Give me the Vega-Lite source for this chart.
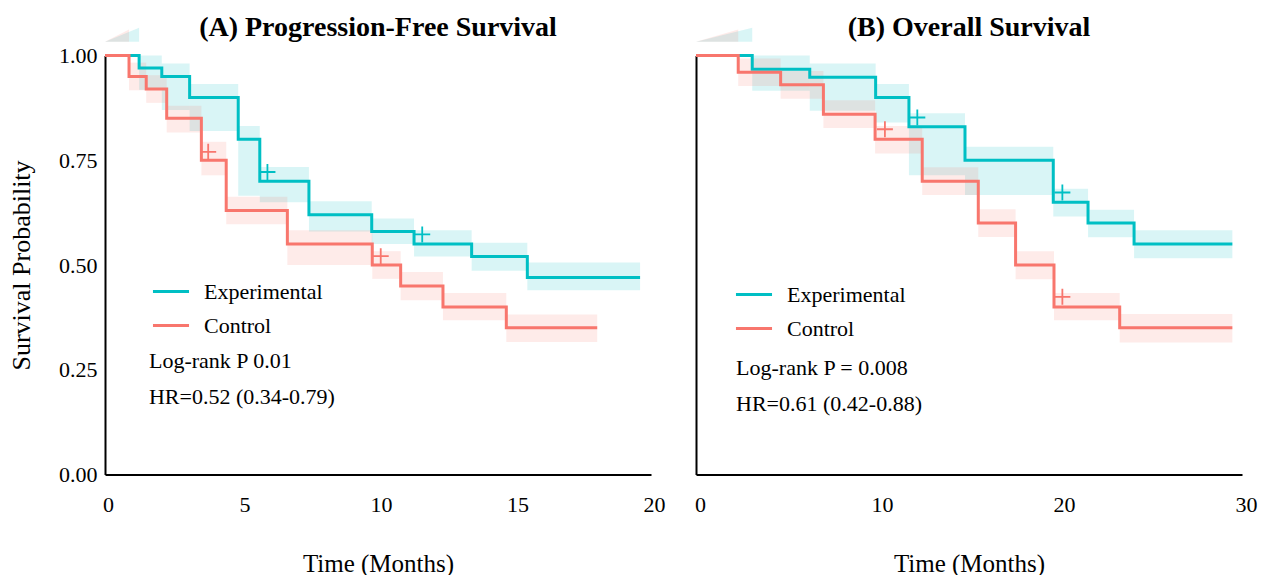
{
  "$schema": "https://vega.github.io/schema/vega-lite/v6.json",
  "padding": {"left": 8, "top": 13.5, "right": 10, "bottom": 0},
  "background": "white",
  "bounds": "flush",
  "spacing": 45,
  "config": {
    "font": "Liberation Serif",
    "view": {"stroke": null},
    "axis": {"domainColor": "black", "domainWidth": 2, "ticks": false, "grid": false, "labelColor": "black", "titleColor": "black", "labelFont": "Liberation Serif", "titleFont": "Liberation Serif", "labelFontSize": 22, "titleFontSize": 25, "titleFontWeight": "normal"},
    "legend": {"labelFont": "Liberation Serif", "labelFontSize": 22, "labelColor": "black"},
    "title": {"font": "Liberation Serif", "fontSize": 28, "fontWeight": "bold", "color": "black", "anchor": "middle"}
  },
  "datasets": {
    "pfs_step": [
      {"group": "Experimental", "t": 0, "s": 1.0},
      {"group": "Experimental", "t": 1.25, "s": 0.97},
      {"group": "Experimental", "t": 2.08, "s": 0.95},
      {"group": "Experimental", "t": 3.10, "s": 0.90},
      {"group": "Experimental", "t": 4.88, "s": 0.80},
      {"group": "Experimental", "t": 5.67, "s": 0.70},
      {"group": "Experimental", "t": 7.47, "s": 0.62},
      {"group": "Experimental", "t": 9.77, "s": 0.58},
      {"group": "Experimental", "t": 11.32, "s": 0.55},
      {"group": "Experimental", "t": 13.43, "s": 0.52},
      {"group": "Experimental", "t": 15.47, "s": 0.47},
      {"group": "Experimental", "t": 19.6, "s": 0.47},
      {"group": "Control", "t": 0, "s": 1.0},
      {"group": "Control", "t": 0.88, "s": 0.95},
      {"group": "Control", "t": 1.51, "s": 0.92},
      {"group": "Control", "t": 2.26, "s": 0.85},
      {"group": "Control", "t": 3.53, "s": 0.75},
      {"group": "Control", "t": 4.44, "s": 0.63},
      {"group": "Control", "t": 6.68, "s": 0.55},
      {"group": "Control", "t": 9.79, "s": 0.50},
      {"group": "Control", "t": 10.83, "s": 0.45},
      {"group": "Control", "t": 12.38, "s": 0.40},
      {"group": "Control", "t": 14.7, "s": 0.35},
      {"group": "Control", "t": 18.03, "s": 0.35}
    ],
    "pfs_band": [
      {"group": "Experimental", "t0": 1.25, "t1": 2.08, "lo": 0.918, "hi": 1.0},
      {"group": "Experimental", "t0": 2.08, "t1": 3.10, "lo": 0.87, "hi": 0.981},
      {"group": "Experimental", "t0": 3.10, "t1": 4.88, "lo": 0.82, "hi": 0.932},
      {"group": "Experimental", "t0": 4.88, "t1": 5.67, "lo": 0.665, "hi": 0.832},
      {"group": "Experimental", "t0": 5.67, "t1": 7.47, "lo": 0.65, "hi": 0.734},
      {"group": "Experimental", "t0": 7.47, "t1": 9.77, "lo": 0.58, "hi": 0.652},
      {"group": "Experimental", "t0": 9.77, "t1": 11.32, "lo": 0.55, "hi": 0.611},
      {"group": "Experimental", "t0": 11.32, "t1": 13.43, "lo": 0.52, "hi": 0.583},
      {"group": "Experimental", "t0": 13.43, "t1": 15.47, "lo": 0.486, "hi": 0.553},
      {"group": "Experimental", "t0": 15.47, "t1": 19.6, "lo": 0.44, "hi": 0.506},
      {"group": "Control", "t0": 0.88, "t1": 1.51, "lo": 0.917, "hi": 0.983},
      {"group": "Control", "t0": 1.51, "t1": 2.26, "lo": 0.887, "hi": 0.953},
      {"group": "Control", "t0": 2.26, "t1": 3.53, "lo": 0.816, "hi": 0.88},
      {"group": "Control", "t0": 3.53, "t1": 4.44, "lo": 0.714, "hi": 0.794},
      {"group": "Control", "t0": 4.44, "t1": 6.68, "lo": 0.597, "hi": 0.663},
      {"group": "Control", "t0": 6.68, "t1": 9.79, "lo": 0.50, "hi": 0.583},
      {"group": "Control", "t0": 9.79, "t1": 10.83, "lo": 0.467, "hi": 0.533},
      {"group": "Control", "t0": 10.83, "t1": 12.38, "lo": 0.416, "hi": 0.483},
      {"group": "Control", "t0": 12.38, "t1": 14.7, "lo": 0.368, "hi": 0.433},
      {"group": "Control", "t0": 14.7, "t1": 18.03, "lo": 0.316, "hi": 0.382}
    ],
    "pfs_tri": [
      {"group": "Experimental", "t": 0, "lo": 1.033, "hi": 1.033},
      {"group": "Experimental", "t": 1.25, "lo": 1.033, "hi": 1.066},
      {"group": "Control", "t": 0, "lo": 1.033, "hi": 1.033},
      {"group": "Control", "t": 0.88, "lo": 1.033, "hi": 1.062}
    ],
    "pfs_cens": [
      {"group": "Experimental", "t": 5.95, "s": 0.722},
      {"group": "Experimental", "t": 11.62, "s": 0.573},
      {"group": "Control", "t": 3.78, "s": 0.77},
      {"group": "Control", "t": 10.1, "s": 0.521}
    ],
    "os_step": [
      {"group": "Experimental", "t": 0, "s": 1.0},
      {"group": "Experimental", "t": 3.09, "s": 0.967},
      {"group": "Experimental", "t": 6.25, "s": 0.948},
      {"group": "Experimental", "t": 9.87, "s": 0.90},
      {"group": "Experimental", "t": 11.7, "s": 0.83},
      {"group": "Experimental", "t": 14.78, "s": 0.75},
      {"group": "Experimental", "t": 19.63, "s": 0.65},
      {"group": "Experimental", "t": 21.54, "s": 0.60},
      {"group": "Experimental", "t": 24.07, "s": 0.55},
      {"group": "Experimental", "t": 29.47, "s": 0.55},
      {"group": "Control", "t": 0, "s": 1.0},
      {"group": "Control", "t": 2.32, "s": 0.96},
      {"group": "Control", "t": 4.65, "s": 0.93},
      {"group": "Control", "t": 7.0, "s": 0.86},
      {"group": "Control", "t": 9.84, "s": 0.80},
      {"group": "Control", "t": 12.43, "s": 0.70},
      {"group": "Control", "t": 15.51, "s": 0.60},
      {"group": "Control", "t": 17.56, "s": 0.50},
      {"group": "Control", "t": 19.67, "s": 0.40},
      {"group": "Control", "t": 23.28, "s": 0.35},
      {"group": "Control", "t": 29.47, "s": 0.35}
    ],
    "os_band": [
      {"group": "Experimental", "t0": 3.09, "t1": 6.25, "lo": 0.916, "hi": 1.0},
      {"group": "Experimental", "t0": 6.25, "t1": 9.87, "lo": 0.868, "hi": 0.981},
      {"group": "Experimental", "t0": 9.87, "t1": 11.7, "lo": 0.84, "hi": 0.932},
      {"group": "Experimental", "t0": 11.7, "t1": 14.78, "lo": 0.714, "hi": 0.862},
      {"group": "Experimental", "t0": 14.78, "t1": 19.63, "lo": 0.667, "hi": 0.782},
      {"group": "Experimental", "t0": 19.63, "t1": 21.54, "lo": 0.616, "hi": 0.682},
      {"group": "Experimental", "t0": 21.54, "t1": 24.07, "lo": 0.566, "hi": 0.632},
      {"group": "Experimental", "t0": 24.07, "t1": 29.47, "lo": 0.516, "hi": 0.583},
      {"group": "Control", "t0": 2.32, "t1": 4.65, "lo": 0.927, "hi": 0.993},
      {"group": "Control", "t0": 4.65, "t1": 7.0, "lo": 0.897, "hi": 0.963},
      {"group": "Control", "t0": 7.0, "t1": 9.84, "lo": 0.827, "hi": 0.893},
      {"group": "Control", "t0": 9.84, "t1": 12.43, "lo": 0.766, "hi": 0.832},
      {"group": "Control", "t0": 12.43, "t1": 15.51, "lo": 0.667, "hi": 0.733},
      {"group": "Control", "t0": 15.51, "t1": 17.56, "lo": 0.567, "hi": 0.633},
      {"group": "Control", "t0": 17.56, "t1": 19.67, "lo": 0.466, "hi": 0.533},
      {"group": "Control", "t0": 19.67, "t1": 23.28, "lo": 0.368, "hi": 0.433},
      {"group": "Control", "t0": 23.28, "t1": 29.47, "lo": 0.315, "hi": 0.383}
    ],
    "os_tri": [
      {"group": "Experimental", "t": 0, "lo": 1.033, "hi": 1.033},
      {"group": "Experimental", "t": 3.09, "lo": 1.033, "hi": 1.066},
      {"group": "Control", "t": 0, "lo": 1.033, "hi": 1.033},
      {"group": "Control", "t": 2.32, "lo": 1.033, "hi": 1.062}
    ],
    "os_cens": [
      {"group": "Experimental", "t": 12.16, "s": 0.852},
      {"group": "Experimental", "t": 20.13, "s": 0.673},
      {"group": "Control", "t": 10.38, "s": 0.824},
      {"group": "Control", "t": 20.13, "s": 0.424}
    ]
  },
  "resolve": {"scale": {"color": "independent"}, "legend": {"color": "independent"}},
  "hconcat": [
    {
      "width": 546,
      "height": 419,
      "title": {"text": "(A) Progression-Free Survival", "offset": -14},
      "layer": [
        {
          "data": {"name": "pfs_band"},
          "mark": {"type": "rect", "opacity": 0.15},
          "encoding": {
            "x": {"field": "t0", "type": "quantitative", "scale": {"domain": [0, 20], "nice": false, "zero": false}, "axis": {"values": [0, 5, 10, 15, 20], "title": "Time (Months)", "labelFlush": false, "labelOffset": 3, "labelPadding": 19.5, "titlePadding": 36}},
            "x2": {"field": "t1"},
            "y": {"field": "lo", "type": "quantitative", "scale": {"domain": [0, 1], "nice": false}, "axis": {"values": [0, 0.25, 0.5, 0.75, 1], "format": ".2f", "title": "Survival Probability", "titleFontSize": 26, "labelPadding": 8, "titlePadding": 24}},
            "y2": {"field": "hi"},
            "color": {"field": "group", "type": "nominal", "scale": {"domain": ["Experimental", "Control"], "range": ["#00BFC4", "#F8766D"]}, "legend": {"orient": "none", "legendX": 46, "legendY": 216, "title": null, "padding": 0, "symbolType": "stroke", "symbolStrokeWidth": 3, "symbolSize": 1300, "symbolOpacity": 1, "labelOffset": 13, "rowPadding": 3, "encode": {"symbols": {"update": {"opacity": {"value": 1}, "strokeOpacity": {"value": 1}, "strokeWidth": {"value": 3}}}}}}
          }
        },
        {
          "data": {"name": "pfs_tri"},
          "mark": {"type": "area", "opacity": 0.15},
          "encoding": {
            "x": {"field": "t", "type": "quantitative"},
            "y": {"field": "lo", "type": "quantitative"},
            "y2": {"field": "hi"},
            "color": {"field": "group", "type": "nominal"}
          }
        },
        {
          "data": {"name": "pfs_step"},
          "mark": {"type": "line", "interpolate": "step-after", "strokeWidth": 3},
          "encoding": {
            "x": {"field": "t", "type": "quantitative"},
            "y": {"field": "s", "type": "quantitative"},
            "color": {"field": "group", "type": "nominal"}
          }
        },
        {
          "data": {"name": "pfs_cens"},
          "mark": {"type": "point", "shape": "M-1,0L1,0M0,-1L0,1", "filled": false, "strokeWidth": 1.8, "size": 256, "opacity": 1},
          "encoding": {
            "x": {"field": "t", "type": "quantitative"},
            "y": {"field": "s", "type": "quantitative"},
            "color": {"field": "group", "type": "nominal"}
          }
        },
        {
          "data": {"values": [{}]},
          "mark": {"type": "text", "align": "left", "baseline": "middle", "fontSize": 22, "color": "black"},
          "encoding": {"x": {"datum": 1.61}, "y": {"datum": 0.272}, "text": {"value": "Log-rank P 0.01"}}
        },
        {
          "data": {"values": [{}]},
          "mark": {"type": "text", "align": "left", "baseline": "middle", "fontSize": 22, "color": "black"},
          "encoding": {"x": {"datum": 1.61}, "y": {"datum": 0.184}, "text": {"value": "HR=0.52 (0.34-0.79)"}}
        }
      ]
    },
    {
      "width": 546,
      "height": 419,
      "title": {"text": "(B) Overall Survival", "offset": -14},
      "layer": [
        {
          "data": {"name": "os_band"},
          "mark": {"type": "rect", "opacity": 0.15},
          "encoding": {
            "x": {"field": "t0", "type": "quantitative", "scale": {"domain": [0, 30], "nice": false, "zero": false}, "axis": {"values": [0, 10, 20, 30], "title": "Time (Months)", "labelFlush": false, "labelOffset": 4, "labelPadding": 19.5, "titlePadding": 36}},
            "x2": {"field": "t1"},
            "y": {"field": "lo", "type": "quantitative", "scale": {"domain": [0, 1], "nice": false}, "axis": {"labels": false, "title": null}},
            "y2": {"field": "hi"},
            "color": {"field": "group", "type": "nominal", "scale": {"domain": ["Experimental", "Control"], "range": ["#00BFC4", "#F8766D"]}, "legend": {"orient": "none", "legendX": 38, "legendY": 219, "title": null, "padding": 0, "symbolType": "stroke", "symbolStrokeWidth": 3, "symbolSize": 1300, "symbolOpacity": 1, "labelOffset": 13, "rowPadding": 3, "encode": {"symbols": {"update": {"opacity": {"value": 1}, "strokeOpacity": {"value": 1}, "strokeWidth": {"value": 3}}}}}}
          }
        },
        {
          "data": {"name": "os_tri"},
          "mark": {"type": "area", "opacity": 0.15},
          "encoding": {
            "x": {"field": "t", "type": "quantitative"},
            "y": {"field": "lo", "type": "quantitative"},
            "y2": {"field": "hi"},
            "color": {"field": "group", "type": "nominal"}
          }
        },
        {
          "data": {"name": "os_step"},
          "mark": {"type": "line", "interpolate": "step-after", "strokeWidth": 3},
          "encoding": {
            "x": {"field": "t", "type": "quantitative"},
            "y": {"field": "s", "type": "quantitative"},
            "color": {"field": "group", "type": "nominal"}
          }
        },
        {
          "data": {"name": "os_cens"},
          "mark": {"type": "point", "shape": "M-1,0L1,0M0,-1L0,1", "filled": false, "strokeWidth": 1.8, "size": 256, "opacity": 1},
          "encoding": {
            "x": {"field": "t", "type": "quantitative"},
            "y": {"field": "s", "type": "quantitative"},
            "color": {"field": "group", "type": "nominal"}
          }
        },
        {
          "data": {"values": [{}]},
          "mark": {"type": "text", "align": "left", "baseline": "middle", "fontSize": 22, "color": "black"},
          "encoding": {"x": {"datum": 2.2}, "y": {"datum": 0.255}, "text": {"value": "Log-rank P = 0.008"}}
        },
        {
          "data": {"values": [{}]},
          "mark": {"type": "text", "align": "left", "baseline": "middle", "fontSize": 22, "color": "black"},
          "encoding": {"x": {"datum": 2.2}, "y": {"datum": 0.169}, "text": {"value": "HR=0.61 (0.42-0.88)"}}
        }
      ]
    }
  ]
}
